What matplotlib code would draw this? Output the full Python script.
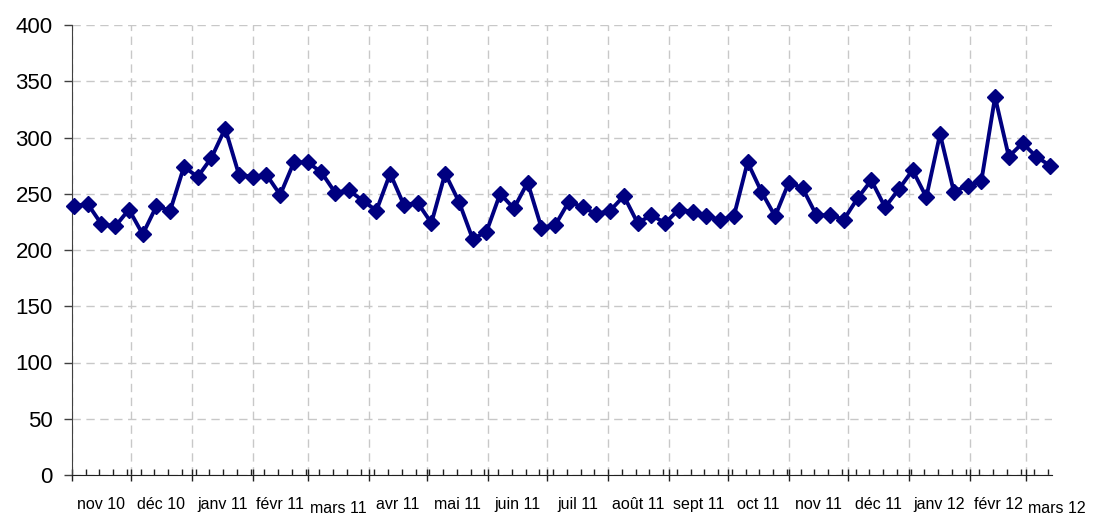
import matplotlib
matplotlib.use("Agg")
import matplotlib.pyplot as plt
import matplotlib.dates as mdates
import numpy as np
import pandas as pd

# weekly values (first week starts 2 Nov 2010)
values = [239, 241, 223, 221, 236, 214, 239, 235, 274, 265,
          282, 308, 267, 265, 267, 249, 278, 278, 269, 251,
          253, 244, 235, 268, 240, 242, 224, 268, 243, 210,
          216, 250, 237, 260, 220, 222, 243, 238, 232, 235,
          248, 224, 231, 224, 236, 234, 230, 227, 230, 278,
          252, 230, 260, 255, 231, 231, 227, 246, 262, 238,
          254, 271, 247, 303, 252, 257, 261, 336, 283, 295,
          283, 275]
first_week = "2010-11-02"
month_starts = pd.date_range("2010-11-01", "2012-03-01", freq="MS")
month_labels = ["nov 10", "déc 10", "janv 11", "févr 11", "mars 11", "avr 11",
                "mai 11", "juin 11", "juil 11", "août 11", "sept 11", "oct 11",
                "nov 11", "déc 11", "janv 12", "févr 12", "mars 12"]

weeks = pd.date_range(first_week, periods=len(values), freq="7D")

fig = plt.figure(figsize=(10.95, 5.15), dpi=100)
ax = fig.add_axes([72 / 1095, 40 / 515, 980 / 1095, 450 / 515])

ax.plot(weeks, values, color="#000080", lw=2.8, marker="D", ms=8,
        markeredgecolor="#000080", zorder=3, clip_on=False)

ax.set_xlim(pd.Timestamp("2010-11-01"), pd.Timestamp("2012-03-14"))
ax.set_ylim(0, 400)
ax.set_yticks(np.arange(0, 401, 50))

# month ticks + weekly minor ticks
ax.set_xticks(month_starts)
ax.set_xticklabels([])
minor = pd.date_range("2010-11-01", "2012-03-14", freq="7D")
ax.set_xticks(minor, minor=True)

ax.grid(True, axis="both", which="major", color="#c8c8c8", lw=1,
        linestyle=(0, (6, 4)))
ax.set_axisbelow(True)

for s in ["top", "right"]:
    ax.spines[s].set_visible(False)
ax.spines["left"].set_color("#404040")
ax.spines["bottom"].set_color("#202020")

ax.tick_params(axis="y", which="major", direction="out", length=6, width=1,
               color="#404040", pad=8, labelsize=16)
ax.tick_params(axis="x", which="major", direction="inout", length=9, width=1,
               color="#202020")
ax.tick_params(axis="x", which="minor", direction="in", length=4, width=1,
               color="#202020")
for lab in ax.get_yticklabels():
    lab.set_fontfamily("Liberation Sans")

# month labels centred in each month
for i, lab in enumerate(month_labels):
    start = pd.Timestamp("2010-11-01") + pd.DateOffset(months=i)
    end = start + pd.DateOffset(months=1)
    mid = start + (end - start) / 2
    dy = -24 if lab.startswith("mars") else -21
    ax.annotate(lab, xy=(mdates.date2num(mid), 0),
                xycoords=("data", "axes fraction"),
                xytext=(0, dy), textcoords="offset points",
                ha="center", va="center", fontsize=11.5,
                family="Liberation Sans", annotation_clip=False)

fig.savefig("out.png", dpi=100)
